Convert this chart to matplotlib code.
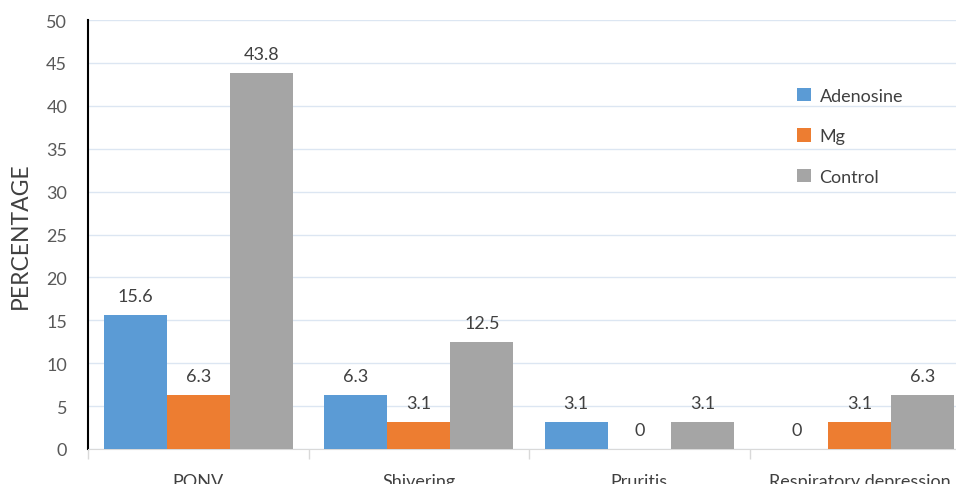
import matplotlib
matplotlib.use("Agg")
import matplotlib.pyplot as plt
import numpy as np

categories = ["PONV", "Shivering", "Pruritis", "Respiratory depression"]
series_names = ["Adenosine", "Mg", "Control"]
adenosine = [15.6, 6.3, 3.1, 0]
mg = [6.3, 3.1, 0, 3.1]
control = [43.8, 12.5, 3.1, 6.3]
colors = ["#5B9BD5", "#ED7D31", "#A5A5A5"]

plt.rcParams['font.family'] = ['Lato', 'DejaVu Sans']

fig = plt.figure(figsize=(9.56, 4.85), dpi=100)
ax = fig.add_axes([88/956, 35/485, 882/956, 429/485])

x = np.arange(len(categories))
w = 0.286
for i, (vals, c, name) in enumerate(zip([adenosine, mg, control], colors, series_names)):
    pos = x + (i - 1) * w
    ax.bar(pos, vals, width=w, color=c, label=name, zorder=3)
    for p, v in zip(pos, vals):
        ax.annotate(f"{v:g}", (p, v), xytext=(0, 8), textcoords="offset points",
                    ha="center", va="bottom", fontsize=13, color="#404040")

ax.set_xlim(-0.5, 3.5)
ax.set_ylim(0, 50)
ax.set_yticks(np.arange(0, 51, 5))
ax.yaxis.grid(True, color="#DCE6F2", linewidth=1, zorder=0)
ax.set_axisbelow(True)
ax.tick_params(axis='y', length=0, labelsize=13, labelcolor="#595959", pad=15)

ax.set_xticks(x)
ax.set_xticklabels(categories, fontsize=13, color="#404040")
ax.tick_params(axis='x', length=0, pad=17)
ax.set_xticks(np.arange(-0.5, 4, 1), minor=True)
ax.tick_params(axis='x', which='minor', length=7, color="#D9D9D9", width=1)

for s in ["top", "right"]:
    ax.spines[s].set_visible(False)
ax.spines["left"].set_color("black")
ax.spines["left"].set_linewidth(1.5)
ax.spines["bottom"].set_color("#D9D9D9")

ax.set_ylabel("PERCENTAGE", fontsize=16.5, color="#404040")
ax.yaxis.set_label_coords(-57/882, 0.5)

leg = ax.legend(loc="upper left", bbox_to_anchor=(788/956, 1 - 80/485), bbox_transform=fig.transFigure,
                frameon=False, fontsize=13, labelcolor="#404040", handlelength=0.75, handleheight=0.75,
                handletextpad=0.5, labelspacing=1.35, borderpad=0)

fig.savefig("out.png", dpi=100)
